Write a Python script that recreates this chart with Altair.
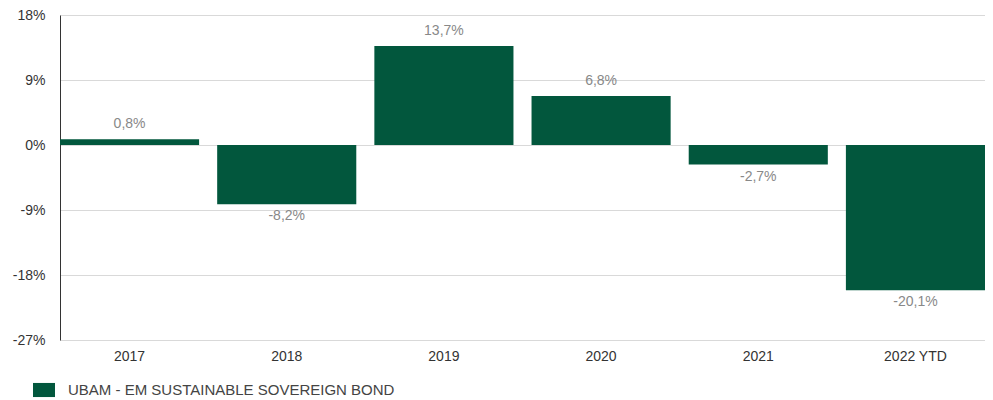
import altair as alt
import pandas as pd

years = ["2017", "2018", "2019", "2020", "2021", "2022 YTD"]
values = [0.8, -8.2, 13.7, 6.8, -2.7, -20.1]
series_name = "UBAM - EM SUSTAINABLE SOVEREIGN BOND"
y_ticks = [18, 9, 0, -9, -18, -27]

df = pd.DataFrame({"year": years, "value": values, "series": [series_name] * len(years)})

FONT = "Liberation Sans"
GREEN = "#02573d"

x = alt.X("year:N", sort=years, title=None,
          scale=alt.Scale(paddingInner=0.115, paddingOuter=0),
          axis=alt.Axis(labelAngle=0, ticks=False, domain=False, labelPadding=9,
                        labelFont=FONT, labelFontSize=14,
                        labelColor="#333333", grid=False))
y = alt.Y("value:Q", title=None,
          scale=alt.Scale(domain=[-27, 18], nice=False, zero=False),
          axis=alt.Axis(values=y_ticks, labelExpr="datum.value + '%'", ticks=False,
                        domain=True, domainColor="#333333", domainWidth=1,
                        gridColor="#d9d9d9", gridWidth=1, labelPadding=15,
                        labelFont=FONT, labelFontSize=14,
                        labelColor="#333333"))

bars = alt.Chart(df).mark_bar(color=GREEN).encode(
    x=x, y=y, y2=alt.datum(0),
    color=alt.Color("series:N", scale=alt.Scale(range=[GREEN]), title=None,
                    legend=alt.Legend(orient="none", legendX=-27, legendY=364,
                                      symbolType="M-1,-0.64H1V0.64H-1Z", symbolSize=484,
                                      symbolStrokeWidth=0, symbolOpacity=1, labelLimit=0,
                                      labelFont=FONT, labelFontSize=15,
                                      labelColor="#444444", labelOffset=13))
)

label_expr = "(datum.value < 0 ? '-' : '') + replace(format(abs(datum.value), '.1f'), '.', ',') + '%'"

pos = alt.Chart(df).transform_filter("datum.value >= 0").transform_calculate(
    lbl=label_expr
).mark_text(baseline="bottom", dy=-8, font=FONT, fontSize=14,
            color="#888888").encode(x=alt.X("year:N", sort=years), y="value:Q", text="lbl:N")

neg = alt.Chart(df).transform_filter("datum.value < 0").transform_calculate(
    lbl=label_expr
).mark_text(baseline="top", dy=5, font=FONT, fontSize=14,
            color="#888888").encode(x=alt.X("year:N", sort=years), y="value:Q", text="lbl:N")

chart = alt.layer(bars, pos, neg).properties(
    width=925, height=325,
    autosize=alt.AutoSizeParams(type="none"),
    padding={"left": 52, "top": 7, "right": 0, "bottom": 58},
).configure_view(stroke=None)

chart.save("out.html", embed_options={"renderer": "svg", "actions": False})
